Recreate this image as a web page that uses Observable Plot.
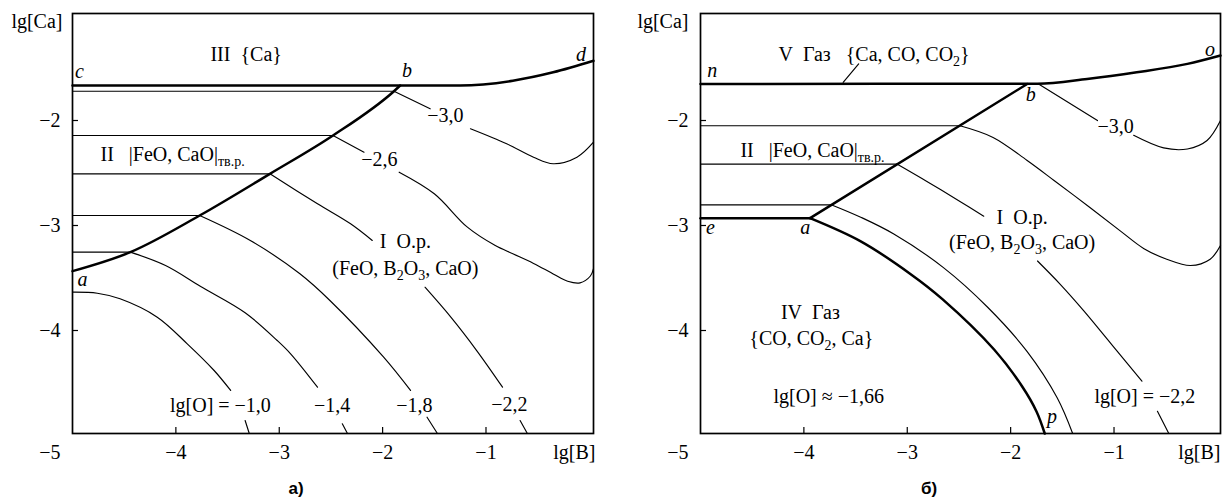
<!DOCTYPE html>
<html><head><meta charset="utf-8">
<script src="https://cdn.jsdelivr.net/npm/d3@7"></script>
<script src="https://cdn.jsdelivr.net/npm/@observablehq/plot@0.6"></script>
<style>
body{margin:0;background:#fff}
#wrap{position:relative;width:1224px;height:499px;overflow:hidden;background:#fff}
.panel{position:absolute;top:0}
.cap{position:absolute;top:480px;font:bold 17px "Liberation Sans",Arial,sans-serif;line-height:1;transform:translateX(-50%);color:#000}
</style></head><body>
<div id="wrap">
  <div id="pa" class="panel" style="left:0"></div>
  <div id="pb" class="panel" style="left:612px"></div>
  <div class="cap" style="left:296px">а)</div>
  <div class="cap" style="left:929px">б)</div>
</div>
<script>
// ---------- axis ticks ----------
const xTicks = [-4, -3, -2, -1];
const yTicks = [-4, -3, -2];
const cornerTick = [-5];

// ---------- Panel а) : boundaries (thick) ----------
const A_cbd = [[-5,-1.686],[-1.25,-1.686],[-0.74,-1.64],[-0.35,-1.56],[0.04,-1.45]];
const A_ab  = [[-5,-3.454],[-4.44,-3.273],[-3.77,-2.924],[-3.09,-2.527],[-2.48,-2.162],[-1.89,-1.74],[-1.83,-1.686]];
// ---------- Panel а) : lg[O] isolines (thin), split where labels interrupt ----------
const A_m30_flat = [[-5,-1.74],[-1.89,-1.74]];
const A_m30_c1 = [[-1.89,-1.74],[-1.54,-1.908]];
const A_m30_c2 = [[-1.15,-2.098],[-0.80,-2.241],[-0.54,-2.369],[-0.35,-2.431],[-0.12,-2.369],[0.04,-2.226]];
const A_m26_flat = [[-5,-2.162],[-2.48,-2.162]];
const A_m26_c1 = [[-2.48,-2.162],[-2.18,-2.321]];
const A_m26_c2 = [[-1.84,-2.511],[-1.50,-2.717],[-1.18,-3.035],[-0.91,-3.21],[-0.735,-3.29],[-0.54,-3.38],[-0.35,-3.48],[-0.21,-3.55],[-0.09,-3.565],[0.01,-3.50],[0.04,-3.43]];
const A_m22_flat = [[-5,-2.527],[-3.09,-2.527]];
const A_m22_c1 = [[-3.09,-2.527],[-2.63,-2.812],[-2.31,-3.003],[-2.10,-3.162]];
const A_m22_c2 = [[-1.59,-3.607],[-1.34,-3.892],[-1.09,-4.21],[-0.84,-4.559]];
const A_m22_c3 = [[-0.67,-4.876],[-0.60,-5.0]];
const A_m18_flat = [[-5,-2.924],[-3.77,-2.924]];
const A_m18_c1 = [[-3.77,-2.924],[-3.28,-3.162],[-2.80,-3.479],[-2.51,-3.733],[-1.99,-4.273],[-1.73,-4.59]];
const A_m18_c2 = [[-1.57,-4.845],[-1.47,-5.0]];
const A_m14_flat = [[-5,-3.273],[-4.44,-3.273]];
const A_m14_c1 = [[-4.44,-3.273],[-4.10,-3.40],[-3.76,-3.60],[-3.33,-3.85],[-3.02,-4.114],[-2.89,-4.241],[-2.63,-4.559]];
const A_m14_c2 = [[-2.39,-4.907],[-2.34,-5.0]];
const A_m10_c1 = [[-5,-3.654],[-4.76,-3.664],[-4.54,-3.717],[-4.18,-3.892],[-3.89,-4.146],[-3.63,-4.40],[-3.47,-4.59]];
const A_m10_c2 = [[-3.33,-4.876],[-3.29,-5.0]];

// ---------- Panel б) : boundaries (thick) ----------
const B_nbo = [[-5,-1.671],[-1.74,-1.668],[-1.26,-1.623],[-0.78,-1.56],[-0.29,-1.48],[0.03,-1.40]];
const B_ea  = [[-5,-2.949],[-3.94,-2.949]];
const B_ab  = [[-3.94,-2.949],[-1.84,-1.671]];
const B_ap  = [[-3.94,-2.949],[-3.45,-3.17],[-2.97,-3.48],[-2.66,-3.72],[-2.16,-4.20],[-1.89,-4.55],[-1.75,-4.79],[-1.67,-5.0]];
// ---------- Panel б) : lg[O] isolines (thin) ----------
const B_m30_c1 = [[-1.73,-1.671],[-1.16,-2.02]];
const B_m30_c2 = [[-0.81,-2.16],[-0.52,-2.28],[-0.29,-2.29],[-0.10,-2.21],[0.03,-2.02]];
const B_m26_flat = [[-5,-2.069],[-2.49,-2.069]];
const B_m26_c = [[-2.49,-2.069],[-2.17,-2.18],[-1.84,-2.40],[-1.58,-2.59],[-1.23,-2.85],[-0.94,-3.07],[-0.71,-3.24],[-0.49,-3.34],[-0.26,-3.40],[-0.07,-3.34],[0.03,-3.21]];
const B_m22_flat = [[-5,-2.434],[-3.10,-2.434]];
const B_m22_c1 = [[-3.10,-2.434],[-2.81,-2.60],[-2.49,-2.79],[-2.26,-2.93]];
const B_m22_c2 = [[-1.74,-3.357],[-1.52,-3.579],[-1.29,-3.834],[-0.97,-4.216],[-0.73,-4.502]];
const B_m22_c3 = [[-0.58,-4.788],[-0.47,-5.0]];
const B_m18_flat = [[-5,-2.823],[-3.73,-2.823]];
const B_m18_c = [[-3.73,-2.823],[-3.45,-2.94],[-3.13,-3.10],[-2.65,-3.42],[-2.22,-3.80],[-1.84,-4.22],[-1.55,-4.66],[-1.40,-5.0]];
const B_leader = [[-3.47,-1.48],[-3.62,-1.655]];

// ---------- text annotations ----------
const A_textMid = [
  {x:-3.32, y:-1.396, t:"III\u00a0\u00a0{Ca}"},
  {x:-1.78, y:-3.174, t:"I\u00a0\u00a0О.р."},
  {x:-1.78, y:-3.434, t:"(FeO, B_{2}O_{3}, CaO)"},
  {x:-1.393, y:-1.974, t:"−3,0"},
  {x:-2.031, y:-2.393, t:"−2,6"},
  {x:-3.569, y:-4.736, t:"lg[O] = −1,0"},
  {x:-2.488, y:-4.736, t:"−1,4"},
  {x:-1.693, y:-4.736, t:"−1,8"},
  {x:-0.774, y:-4.72, t:"−2,2"}
];
const A_textStart = [{x:-4.729, y:-2.339, t:"II\u00a0\u00a0\u00a0|FeO, CaO|_{тв.р.}"}];
const A_points = [
  {x:-4.932, y:-1.558, t:"c"}, {x:-1.763, y:-1.546, t:"b"},
  {x:-0.081, y:-1.387, t:"d"}, {x:-4.903, y:-3.536, t:"a"}
];
const B_textMid = [
  {x:-1.889, y:-2.94, t:"I\u00a0\u00a0О.р."},
  {x:-1.889, y:-3.185, t:"(FeO, B_{2}O_{3}, CaO)"},
  {x:-3.937, y:-3.844, t:"IV\u00a0\u00a0Газ"},
  {x:-3.928, y:-4.092, t:"{CO, CO_{2}, Ca}"},
  {x:-3.76, y:-4.648, t:"lg[O] ≈ −1,66"},
  {x:-0.702, y:-4.648, t:"lg[O] = −2,2"},
  {x:-0.984, y:-2.081, t:"−3,0"}
];
const B_textStart = [
  {x:-4.246, y:-1.387, t:"V\u00a0\u00a0Газ\u00a0\u00a0\u00a0{Ca, CO, CO_{2}}"},
  {x:-4.614, y:-2.31, t:"II\u00a0\u00a0\u00a0|FeO, CaO|_{тв.р.}"}
];
const B_points = [
  {x:-4.887, y:-1.54, t:"n"}, {x:-0.072, y:-1.34, t:"o"}, {x:-1.805, y:-1.776, t:"b"},
  {x:-4.903, y:-3.042, t:"e"}, {x:-3.986, y:-3.042, t:"a"}, {x:-1.599, y:-4.839, t:"p"}
];

// ---------- helpers ----------
const THICK = 2.5, THIN = 1.15;
const seg = (pts, w, curve = "catmull-rom") => Plot.line(pts, {x: d => d[0], y: d => d[1], curve, stroke: "black", strokeWidth: w});
const fmt = d3.format("d");

function frameAxes(bdx, cadx) {
  return [
    Plot.frame({stroke: "black", strokeWidth: 1.7}),
    Plot.axisX({ticks: xTicks, tickFormat: fmt, tickSize: -6, tickPadding: 17, label: null, stroke: "black", strokeWidth: 1.2}),
    Plot.axisX({ticks: cornerTick, tickFormat: fmt, tickSize: 0, tickPadding: 11, textAnchor: "end", dx: -12, label: null}),
    Plot.axisY({ticks: yTicks, tickFormat: fmt, tickSize: -6, tickPadding: 18, dy: 2, label: null, stroke: "black", strokeWidth: 1.2}),
    Plot.text(["lg[B]"], {frameAnchor: "bottom-right", textAnchor: "end", lineAnchor: "top", dy: 11, dx: bdx}),
    Plot.text(["lg[Ca]"], {frameAnchor: "top-left", textAnchor: "end", lineAnchor: "top", dx: cadx})
  ];
}
function textMarks(mid, start, pts) {
  return [
    Plot.text(mid, {x: "x", y: "y", text: "t", textAnchor: "middle"}),
    Plot.text(start, {x: "x", y: "y", text: "t", textAnchor: "start"}),
    Plot.text(pts, {x: "x", y: "y", text: "t", textAnchor: "middle", fontStyle: "italic"})
  ];
}
function applySubs(root) {
  root.querySelectorAll("text").forEach(el => {
    const t = el.textContent;
    if (!t.includes("_{")) return;
    const parts = t.split(/_\{([^}]*)\}/);
    el.textContent = "";
    let shifted = false;
    parts.forEach((p, i) => {
      if (!p) return;
      const ts = document.createElementNS("http://www.w3.org/2000/svg", "tspan");
      ts.textContent = p;
      if (i % 2 === 1) { ts.setAttribute("font-size", "14"); ts.setAttribute("dy", "5"); shifted = true; }
      else if (shifted) { ts.setAttribute("dy", "-5"); shifted = false; }
      el.appendChild(ts);
    });
  });
}
const style = {fontFamily: '"Liberation Serif", "Times New Roman", serif', fontSize: "20px", color: "black", background: "white", overflow: "visible"};

const plotA = Plot.plot({
  width: 612, height: 470,
  marginLeft: 72, marginRight: 19, marginTop: 13, marginBottom: 37,
  x: {domain: [-5, 0.04]}, y: {domain: [-5, -1]},
  style,
  marks: [
    ...[A_m30_flat, A_m30_c1, A_m30_c2, A_m26_flat, A_m26_c1, A_m26_c2,
        A_m22_flat, A_m22_c1, A_m22_c2, A_m22_c3, A_m18_flat, A_m18_c1, A_m18_c2,
        A_m14_flat, A_m14_c1, A_m14_c2, A_m10_c1, A_m10_c2].map(p => seg(p, THIN)),
    seg(A_cbd, THICK, "monotone-x"), seg(A_ab, THICK, "monotone-x"),
    ...frameAxes(2, -10),
    ...textMarks(A_textMid, A_textStart, A_points)
  ]
});
const plotB = Plot.plot({
  width: 612, height: 470,
  marginLeft: 88, marginRight: 4, marginTop: 13, marginBottom: 37,
  x: {domain: [-5, 0.03]}, y: {domain: [-5, -1]},
  style,
  marks: [
    ...[B_m30_c1, B_m30_c2, B_m26_flat, B_m26_c, B_m22_flat, B_m22_c1, B_m22_c2, B_m22_c3,
        B_m18_flat, B_m18_c, B_leader].map(p => seg(p, THIN)),
    seg(B_nbo, THICK, "monotone-x"), seg(B_ea, THICK), seg(B_ab, THICK), seg(B_ap, THICK),
    ...frameAxes(0, -12),
    ...textMarks(B_textMid, B_textStart, B_points)
  ]
});
applySubs(plotA); applySubs(plotB);
document.getElementById("pa").appendChild(plotA);
document.getElementById("pb").appendChild(plotB);
</script></body></html>
